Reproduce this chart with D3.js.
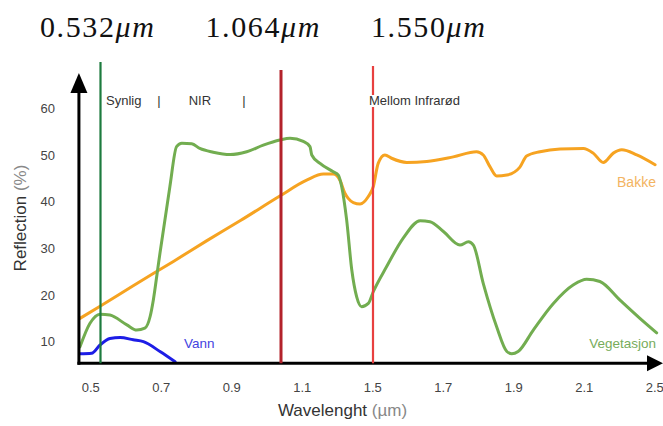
<!DOCTYPE html>
<html>
<head>
<meta charset="UTF-8">
<script src="https://d3js.org/d3.v7.min.js"></script>
<style>
  body { margin: 0; background: #fff; }
  svg { font-family: "Liberation Sans", Arial, sans-serif; }
</style>
</head>
<body>
<div id="chart"></div>
<script>
const width = 663, height = 426;

// tick labels as printed on the chart (note: 1.3 and 2.3 are skipped in the original)
const xTicks = [0.5, 0.7, 0.9, 1.1, 1.5, 1.7, 1.9, 2.1, 2.5];
const yTicks = [10, 20, 30, 40, 50, 60];

// laser wavelengths marked above the chart
const laserValues = [0.532, 1.064, 1.55];
const laserLabels = ["0.532", "1.064", "1.550"];

// reflection curves [wavelength, reflection %]
const vegetation = [
  [0.471, 8.9], [0.499, 13.9], [0.528, 15.9], [0.556, 15.7], [0.604, 13.6], [0.632, 12.5],
  [0.655, 12.9], [0.670, 15.4], [0.679, 18.9], [0.692, 25.8], [0.698, 29.0], [0.726, 43.2],
  [0.745, 51.8], [0.760, 52.5], [0.788, 52.4], [0.811, 51.4], [0.849, 50.6], [0.897, 50.1],
  [0.944, 50.7], [0.991, 52.1], [1.038, 53.2], [1.067, 53.6], [1.109, 52.9], [1.147, 51.8],
  [1.157, 50.0], [1.204, 48.2], [1.279, 46.4], [1.308, 45.7], [1.327, 43.2], [1.355, 36.1],
  [1.384, 25.4], [1.412, 19.6], [1.440, 17.5], [1.478, 18.2], [1.503, 20.7], [1.541, 26.1],
  [1.588, 32.2], [1.636, 35.9], [1.664, 35.7], [1.702, 33.6], [1.749, 30.7], [1.773, 31.4],
  [1.787, 30.7], [1.815, 22.5], [1.853, 13.2], [1.882, 7.9], [1.896, 7.4], [1.914, 7.9],
  [1.957, 12.5], [2.014, 18.2], [2.071, 22.2], [2.117, 23.4], [2.192, 22.9], [2.306, 18.9],
  [2.419, 15.0], [2.514, 11.9]
];
const soil = [
  [0.471, 15.0], [0.528, 17.6], [0.622, 22.0], [0.736, 27.2], [0.830, 31.6], [0.925, 35.9],
  [1.038, 41.2], [1.128, 44.6], [1.223, 45.9], [1.279, 45.9], [1.317, 44.6], [1.345, 41.8],
  [1.364, 40.7], [1.393, 39.8], [1.431, 39.5], [1.478, 41.1], [1.503, 43.2], [1.517, 48.2],
  [1.536, 50.0], [1.555, 49.3], [1.598, 48.4], [1.655, 48.6], [1.730, 49.6], [1.796, 50.7],
  [1.815, 50.0], [1.834, 47.5], [1.853, 45.5], [1.882, 45.7], [1.919, 47.4], [1.938, 49.8],
  [1.976, 50.7], [2.033, 51.3], [2.099, 51.4], [2.154, 50.4], [2.211, 48.4], [2.268, 50.4],
  [2.316, 51.1], [2.401, 50.0], [2.505, 47.9]
];
const water = [
  [0.471, 7.4], [0.504, 7.5], [0.528, 9.3], [0.556, 10.7], [0.585, 10.9], [0.622, 10.4],
  [0.651, 10.0], [0.698, 7.9], [0.741, 5.7]
];

const svg = d3.select("#chart").append("svg")
  .attr("width", width)
  .attr("height", height);

// printed ticks sit at an even spacing on the axis
const x = d3.scaleLinear()
  .domain(xTicks)
  .range(xTicks.map((d, i) => 90.2 + i * 70.5));
const y = d3.scaleLinear().domain([10, 60]).range([341.7, 108.3]);
// overlay of the laser lines (pasted on top of the original figure)
const xTop = d3.scaleLinear().domain(laserValues).range([100.5, 281, 373]);

const x0 = x(0.468), y0 = y(5.4);

// curves
const line = d3.line()
  .x(d => x(d[0]))
  .y(d => y(d[1]))
  .curve(d3.curveMonotoneX);

const series = [
  { data: soil, color: "#f6a321" },
  { data: vegetation, color: "#72ad50" },
  { data: water, color: "#1d1de6" }
];
series.forEach(s => {
  svg.append("path")
    .attr("d", line(s.data))
    .attr("fill", "none")
    .attr("stroke", s.color)
    .attr("stroke-width", 3)
    .attr("stroke-linejoin", "round")
    .attr("stroke-linecap", "round");
});

// series names
svg.append("text").attr("x", x(0.766)).attr("y", y(8.65))
  .attr("fill", "#4343e0").attr("font-size", 13.5).text("Vann");
svg.append("text").attr("x", x(2.51)).attr("y", y(43.1)).attr("text-anchor", "end")
  .attr("fill", "#f3b462").attr("font-size", 14).text("Bakke");
svg.append("text").attr("x", x(2.51)).attr("y", y(8.55)).attr("text-anchor", "end")
  .attr("fill", "#77ac5b").attr("font-size", 13.5).text("Vegetasjon");

// axes lines with arrows
svg.append("line")
  .attr("x1", x0).attr("x2", x0).attr("y1", y0 + 1.5).attr("y2", 88)
  .attr("stroke", "#000").attr("stroke-width", 3);
svg.append("path")
  .attr("d", `M${x0},73 L${x0 - 8.5},93 L${x0 + 8.5},93 Z`)
  .attr("fill", "#000");
svg.append("line")
  .attr("x1", x0 - 1.5).attr("x2", 650).attr("y1", y0).attr("y2", y0)
  .attr("stroke", "#000").attr("stroke-width", 3);
svg.append("path")
  .attr("d", `M663,${y0} L647,${y0 - 8} L647,${y0 + 8} Z`)
  .attr("fill", "#000");

// tick labels
const xAxis = svg.append("g")
  .attr("transform", `translate(0,${y0})`)
  .call(d3.axisBottom(x).tickValues(xTicks).tickSize(0).tickPadding(20).tickFormat(d3.format(".1f")));
xAxis.select(".domain").remove();
xAxis.selectAll("text").attr("font-size", 13).attr("fill", "#444").attr("font-family", null);

const yAxis = svg.append("g")
  .attr("transform", `translate(${x0},0)`)
  .call(d3.axisLeft(y).tickValues(yTicks).tickSize(0).tickPadding(24));
yAxis.select(".domain").remove();
yAxis.selectAll("text").attr("font-size", 13).attr("fill", "#444").attr("font-family", null);

// axis titles
const xTitle = svg.append("text")
  .attr("x", 342.5).attr("y", 416)
  .attr("text-anchor", "middle")
  .attr("font-size", 17).attr("fill", "#333");
xTitle.append("tspan").text("Wavelenght ");
xTitle.append("tspan").attr("fill", "#888").text("(\u00b5m)");

const yTitle = svg.append("text")
  .attr("transform", `translate(26,218) rotate(-90)`)
  .attr("text-anchor", "middle")
  .attr("font-size", 17).attr("fill", "#333");
yTitle.append("tspan").text("Reflection ");
yTitle.append("tspan").attr("fill", "#888").text("(%)");

// laser lines
const laserColors = ["#1d7b3e", "#b3222b", "#e8403f"];
const laserWidths = [2.2, 3, 2.2];
const laserTops = [62, 70, 66];
laserValues.forEach((v, i) => {
  svg.append("line")
    .attr("x1", xTop(v)).attr("x2", xTop(v))
    .attr("y1", laserTops[i]).attr("y2", y0)
    .attr("stroke", laserColors[i])
    .attr("stroke-width", laserWidths[i]);
});

// region labels
const regions = [
  { text: "Synlig", at: 0.545, anchor: "start" },
  { text: "|", at: 0.695, anchor: "middle" },
  { text: "NIR", at: 0.811, anchor: "middle" },
  { text: "|", at: 0.936, anchor: "middle" },
  { text: "Mellom Infrar\u00f8d", at: 1.62, anchor: "middle" }
];
regions.forEach(r => {
  const t = svg.append("text")
    .attr("x", x(r.at)).attr("y", 105)
    .attr("text-anchor", r.anchor)
    .attr("font-size", 13).attr("fill", "#333")
    .text(r.text);
  if (r.text.length > 6) {
    const b = t.node().getBBox();
    svg.insert("rect", () => t.node())
      .attr("x", b.x).attr("y", b.y + 2).attr("width", b.width).attr("height", b.height - 3)
      .attr("fill", "#fff");
  }
});

// laser wavelength labels (TeX style)
laserLabels.forEach((lab, i) => {
  const t = svg.append("text")
    .attr("x", 40 + i * 165.5).attr("y", 37)
    .attr("font-family", "'Liberation Serif', 'DejaVu Serif', serif")
    .attr("font-size", 30).attr("fill", "#111")
    .attr("letter-spacing", 1.6);
  t.append("tspan").text(lab);
  t.append("tspan").attr("font-style", "italic").text("\u03bcm");
});
</script>
</body>
</html>
